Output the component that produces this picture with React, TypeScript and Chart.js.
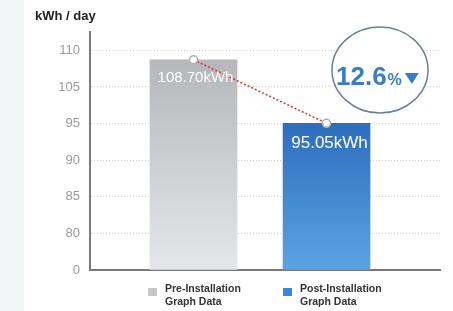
import React, { useEffect, useRef } from 'react';
import { Chart, registerables } from 'chart.js';

Chart.register(...registerables);

const categories = ['Pre-Installation Graph Data', 'Post-Installation Graph Data'];
const legendLines = [
  ['Pre-Installation', 'Graph Data'],
  ['Post-Installation', 'Graph Data'],
];
const usageValues = [108.7, 95.05];
const valueLabels = ['108.70kWh', '95.05kWh'];
const yTickLabels = [0, 80, 85, 90, 95, 105, 110];
const reductionValue = '12.6';
const unitLabel = 'kWh / day';

const FONT = '"Liberation Sans", Arial, sans-serif';

// The axis is drawn with equally spaced (non-linear) tick labels; map a value onto that tick index space.
function toAxis(v: number): number {
  for (let i = 0; i < yTickLabels.length - 1; i++) {
    const a = yTickLabels[i];
    const b = yTickLabels[i + 1];
    if (v >= a && v <= b) return i + (v - a) / (b - a);
  }
  return yTickLabels.length - 1;
}

const points = usageValues.map((v, i) => ({ x: i, y: toAxis(v) }));

const extras = {
  id: 'extras',
  afterDatasetsDraw(chart: any) {
    const ctx = chart.ctx;
    const bars = chart.getDatasetMeta(1).data;
    ctx.save();
    ctx.fillStyle = '#ffffff';
    ctx.textAlign = 'center';
    ctx.textBaseline = 'middle';
    ctx.font = `15px ${FONT}`;
    ctx.fillText(valueLabels[0], bars[0].x + 2, bars[0].y + 18);
    ctx.font = `17px ${FONT}`;
    ctx.fillText(valueLabels[1], bars[1].x + 3, bars[1].y + 20);
    ctx.restore();
  },
  afterDraw(chart: any) {
    const ctx = chart.ctx;
    ctx.save();
    // unit title
    ctx.fillStyle = '#222';
    ctx.font = `bold 13px ${FONT}`;
    ctx.textAlign = 'left';
    ctx.textBaseline = 'middle';
    ctx.fillText(unitLabel, 35, 16);

    // badge
    ctx.beginPath();
    ctx.ellipse(380, 70, 48, 43, 0, 0, Math.PI * 2);
    ctx.fillStyle = '#ffffff';
    ctx.fill();
    ctx.lineWidth = 1.5;
    ctx.strokeStyle = '#6b7f99';
    ctx.stroke();

    ctx.fillStyle = '#3b7cc6';
    ctx.textBaseline = 'alphabetic';
    ctx.font = `bold 26px ${FONT}`;
    const x0 = 336;
    ctx.fillText(reductionValue, x0, 85);
    const w = ctx.measureText(reductionValue).width;
    ctx.font = `bold 16px ${FONT}`;
    ctx.fillText('%', x0 + w + 1, 85);
    const pw = ctx.measureText('%').width;
    const tx = x0 + w + 1 + pw + 3;
    ctx.beginPath();
    ctx.moveTo(tx, 73);
    ctx.lineTo(tx + 14, 73);
    ctx.lineTo(tx + 7, 84);
    ctx.closePath();
    ctx.fill();

    // legend
    const sq = [
      { x: 148, color: '#c4c6c9', tx: 165 },
      { x: 283, color: '#3d87d8', tx: 300 },
    ];
    sq.forEach((s, i) => {
      ctx.fillStyle = s.color;
      ctx.fillRect(s.x, 288, 9, 8);
      ctx.fillStyle = '#333';
      ctx.font = `bold 10.5px ${FONT}`;
      ctx.textBaseline = 'middle';
      ctx.fillText(legendLines[i][0], s.tx, 289.5);
      ctx.fillText(legendLines[i][1], s.tx, 302);
    });
    ctx.restore();
  },
};

export default function App() {
  const ref = useRef<HTMLCanvasElement | null>(null);

  useEffect(() => {
    if (!ref.current) return;
    const chart = new Chart(ref.current, {
      type: 'bar',
      data: {
        labels: categories,
        datasets: [
          {
            type: 'line',
            label: 'change',
            data: points,
            borderColor: '#d8322a',
            borderWidth: 1.5,
            borderDash: [2, 2],
            pointRadius: 4,
            pointBackgroundColor: '#ffffff',
            pointBorderColor: '#b0b0b0',
            pointBorderWidth: 1.5,
            fill: false,
            order: 0,
          } as any,
          {
            type: 'bar',
            label: 'usage',
            data: points,
            barThickness: 87,
            borderWidth: 0,
            order: 1,
            backgroundColor: (c: any) => {
              const chart = c.chart;
              const area = chart.chartArea;
              const i = c.dataIndex;
              if (!area) return i === 0 ? '#cfd1d4' : '#3f88d4';
              const top = chart.scales.y.getPixelForValue(points[i].y);
              const g = chart.ctx.createLinearGradient(0, top, 0, area.bottom);
              if (i === 0) {
                g.addColorStop(0, '#b5b7ba');
                g.addColorStop(1, '#e4e6e9');
              } else {
                g.addColorStop(0, '#2e6ebd');
                g.addColorStop(1, '#5ba3e3');
              }
              return g;
            },
          } as any,
        ],
      },
      options: {
        responsive: false,
        animation: false,
        layout: { padding: { left: 0, right: 13, top: 32, bottom: 0 } },
        plugins: { legend: { display: false }, tooltip: { enabled: false } },
        scales: {
          x: {
            type: 'linear',
            min: -0.778,
            max: 1.853,
            offset: false,
            grid: { display: false },
            ticks: { display: false },
            border: { color: '#7a7a7a', width: 2 },
            afterFit: (s: any) => {
              s.height = 41;
            },
          },
          y: {
            type: 'linear',
            min: 0,
            max: 6.5,
            afterBuildTicks: (s: any) => {
              s.ticks = yTickLabels.map((_, i) => ({ value: i }));
            },
            afterFit: (s: any) => {
              s.width = 90;
            },
            ticks: {
              padding: 10,
              color: '#9a9a9a',
              font: { family: FONT, size: 13 },
              callback: (v: any) => (yTickLabels[v] !== undefined ? String(yTickLabels[v]) : ''),
            },
            grid: {
              drawTicks: false,
              color: (c: any) => (c.tick && c.tick.value === 0 ? 'rgba(0,0,0,0)' : '#cdcdcd'),
              lineWidth: 1,
            },
            border: { color: '#7a7a7a', width: 2, dash: [1, 2] },
          },
        },
      },
      plugins: [extras],
    });
    return () => chart.destroy();
  }, []);

  return (
    <div
      style={{
        position: 'absolute',
        left: 0,
        top: 0,
        width: 453,
        height: 311,
        background: 'linear-gradient(to right, #f3f6f6 0px, #f3f6f6 24px, #ffffff 24px)',
      }}
    >
      <canvas ref={ref} width={453} height={311} style={{ display: 'block' }} />
    </div>
  );
}
